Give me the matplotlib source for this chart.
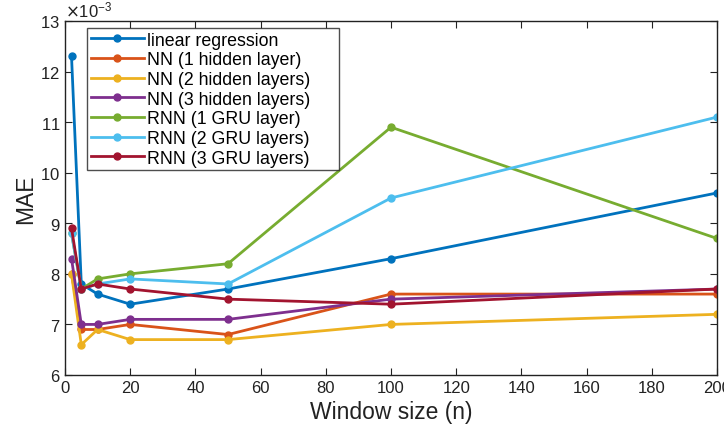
import numpy as np
import matplotlib.pyplot as plt
from matplotlib.ticker import ScalarFormatter

plt.rcParams['font.family'] = ['Liberation Sans', 'DejaVu Sans']

window = [2, 5, 10, 20, 50, 100, 200]

# MAE values in units of 1e-3
lin_reg = [12.3, 7.8, 7.6, 7.4, 7.7, 8.3, 9.6]
nn1 = [8.0, 6.9, 6.9, 7.0, 6.8, 7.6, 7.6]
nn2 = [8.0, 6.6, 6.9, 6.7, 6.7, 7.0, 7.2]
nn3 = [8.3, 7.0, 7.0, 7.1, 7.1, 7.5, 7.7]
rnn1 = [8.8, 7.7, 7.9, 8.0, 8.2, 10.9, 8.7]
rnn2 = [8.8, 7.7, 7.8, 7.9, 7.8, 9.5, 11.1]
rnn3 = [8.9, 7.7, 7.8, 7.7, 7.5, 7.4, 7.7]

labels = ['linear regression', 'NN (1 hidden layer)', 'NN (2 hidden layers)',
          'NN (3 hidden layers)', 'RNN (1 GRU layer)', 'RNN (2 GRU layers)',
          'RNN (3 GRU layers)']
colors = ['#0072BD', '#D95319', '#EDB120', '#7E2F8E', '#77AC30', '#4DBEEE', '#A2142F']
series = [lin_reg, nn1, nn2, nn3, rnn1, rnn2, rnn3]

fig = plt.figure(figsize=(7.24, 4.27), dpi=100)
ax = fig.add_axes([65/724, 1 - 376/427, (717 - 65)/724, (376 - 22)/427])

for vals, lab, c in zip(series, labels, colors):
    ax.plot(window, np.array(vals) * 1e-3, '-o', color=c, lw=2, ms=5, label=lab)

ax.set_xlim(0, 200)
ax.set_ylim(6e-3, 13e-3)
ax.set_xticks(np.arange(0, 201, 20))
ax.set_yticks(np.arange(6, 14) * 1e-3)
fmt = ScalarFormatter(useMathText=True)
fmt.set_powerlimits((-3, -3))
ax.yaxis.set_major_formatter(fmt)
ax.yaxis.get_offset_text().set_fontsize(12)
ax.yaxis.get_offset_text().set_color('#333333')

ax.tick_params(direction='in', top=True, right=True, labelsize=12,
               colors='#222222', length=5)
for s in ax.spines.values():
    s.set_linewidth(1.0)
    s.set_color('#222222')

ax.set_xlabel('Window size (n)', fontsize=16.5, color='#222222')
ax.set_ylabel('MAE', fontsize=16.5, color='#222222', labelpad=2)

leg = ax.legend(loc='upper left', bbox_to_anchor=(0.0337, 0.0, 0.3865, 0.98),
                mode='expand', fontsize=12.8,
                frameon=True, fancybox=False, edgecolor='#222222',
                borderaxespad=0, handlelength=3.0, labelspacing=0.15,
                borderpad=0.2, handletextpad=0.15)
leg.get_frame().set_linewidth(1.0)

fig.savefig('out.png', dpi=100)
